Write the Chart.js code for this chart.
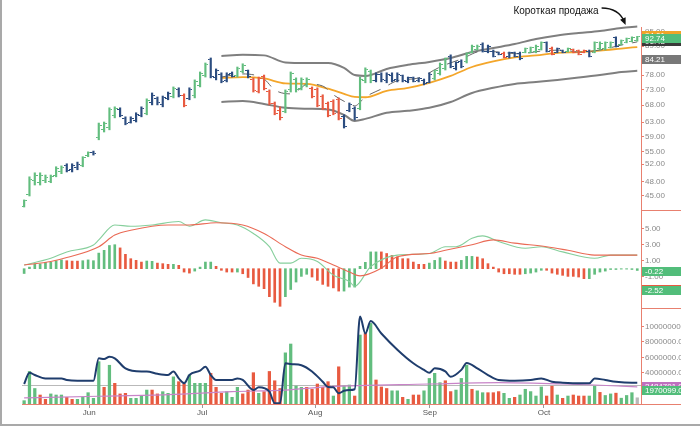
<!DOCTYPE html>
<html>
<head>
<meta charset="utf-8">
<script src="https://cdn.jsdelivr.net/npm/chart.js@4.4.1/dist/chart.umd.min.js"></script>
<style>
  html, body { margin: 0; padding: 0; background: #fff; }
  #wrap { position: relative; width: 700px; height: 426px; overflow: hidden; background: #fff; }
  #wrap canvas { position: absolute; left: 0; top: 0; }
  .frame { position: absolute; background: #a9a9a9; }
</style>
</head>
<body>
<div id="wrap">
  <canvas id="priceChart" width="681" height="426"></canvas>
  <canvas id="macdChart" width="681" height="426"></canvas>
  <canvas id="volChart" width="681" height="426"></canvas>
  <div class="frame" style="left:0;top:0;width:2px;height:426px"></div>
  <div class="frame" style="left:0;top:424px;width:700px;height:2px"></div>
</div>
<script>
// месяцы на оси X (позиция = номер торгового дня)
const monthLabels = ['Jun', 'Jul', 'Aug', 'Sep', 'Oct'];
const monthPos = [12.2, 33.4, 54.6, 76.1, 97.5];

// цены OHLC по дням
const openP = [
  42.9, 45.3, 48.2, 47.9, 48.2, 48.0, 49.4, 50.2, 51.6, 50.7,
  51.3, 51.8, 54.0, 54.9, 58.6, 60.8, 61.5, 65.0, 66.8, 64.0,
  63.0, 63.5, 65.0, 65.6, 69.0, 70.2, 68.2, 70.2, 70.8, 73.0,
  71.0, 70.0, 71.0, 74.5, 77.8, 83.8, 77.0, 78.3, 76.0, 78.6,
  77.8, 79.3, 79.5, 76.6, 72.5, 77.5, 72.4, 68.6, 66.5, 66.0,
  73.0, 76.5, 73.5, 74.3, 73.5, 73.0, 70.8, 68.5, 69.3, 69.8,
  64.5, 66.5, 67.0, 67.0, 76.0, 79.2, 76.0, 78.2, 76.0, 78.0,
  76.4, 77.8, 75.8, 77.0, 76.0, 76.2, 75.5, 76.8, 78.5, 80.3,
  84.8, 80.2, 82.8, 82.8, 86.6, 87.8, 89.8, 86.7, 87.0, 86.3,
  86.2, 84.7, 86.3, 86.2, 86.5, 86.6, 86.8, 87.8, 90.3, 88.2,
  86.5, 87.2, 86.8, 87.6, 87.2, 86.5, 87.0, 86.6, 88.0, 88.2,
  88.5, 92.5, 89.6, 90.5, 91.0, 91.2
];
const highP = [
  44.2, 49.1, 50.0, 50.0, 49.5, 49.5, 51.4, 51.6, 52.1, 52.1,
  52.5, 53.8, 55.0, 55.2, 62.7, 63.0, 67.2, 67.5, 67.2, 64.5,
  64.5, 65.7, 67.5, 70.0, 71.9, 70.6, 70.9, 72.2, 73.9, 73.6,
  71.6, 73.6, 76.3, 79.1, 82.4, 84.3, 80.2, 78.8, 78.8, 79.1,
  80.9, 82.1, 79.8, 77.0, 77.3, 78.0, 72.9, 69.0, 67.5, 72.9,
  79.1, 77.0, 77.0, 77.0, 73.9, 73.6, 71.3, 69.0, 69.7, 70.3,
  65.1, 68.7, 67.5, 77.3, 80.6, 79.8, 78.8, 78.8, 78.8, 78.8,
  78.8, 78.0, 77.3, 77.3, 77.0, 76.6, 78.8, 79.8, 82.4, 84.3,
  85.5, 82.8, 83.6, 86.3, 89.4, 89.4, 90.3, 89.4, 87.4, 86.6,
  86.6, 86.6, 86.6, 86.6, 88.2, 88.6, 89.4, 90.7, 90.7, 88.6,
  88.2, 87.4, 88.2, 87.8, 87.4, 87.4, 87.4, 90.7, 90.7, 90.7,
  90.7, 92.8, 91.5, 92.3, 92.8, 93.0
];
const lowP = [
  42.8, 45.0, 47.3, 47.3, 47.8, 47.8, 49.1, 49.8, 50.2, 50.2,
  50.7, 51.4, 53.8, 54.2, 58.1, 60.2, 60.8, 64.2, 64.5, 62.2,
  62.7, 63.0, 64.5, 65.1, 68.1, 68.1, 67.5, 69.7, 70.3, 70.6,
  67.5, 69.7, 70.3, 73.9, 77.3, 77.0, 76.3, 75.3, 75.6, 77.3,
  77.3, 78.8, 77.0, 72.2, 71.9, 72.9, 68.1, 65.1, 63.6, 65.7,
  72.2, 72.2, 72.9, 73.9, 70.3, 67.5, 66.6, 64.5, 65.1, 63.6,
  61.3, 66.0, 63.6, 66.6, 75.3, 75.3, 75.6, 75.6, 75.3, 75.6,
  75.6, 75.6, 75.3, 75.6, 75.6, 74.6, 75.3, 76.3, 78.0, 79.8,
  80.6, 79.8, 80.6, 82.4, 86.3, 87.4, 86.6, 86.3, 84.7, 85.5,
  84.3, 84.3, 84.7, 83.6, 86.3, 86.3, 86.3, 87.4, 86.6, 85.5,
  86.3, 86.3, 86.6, 86.3, 85.5, 86.3, 84.7, 86.3, 87.4, 87.4,
  88.2, 88.6, 89.4, 90.3, 90.7, 91.0
];
const closeP = [
  44.0, 48.6, 49.4, 49.5, 48.9, 49.2, 51.0, 51.2, 50.6, 51.6,
  52.0, 53.5, 54.8, 54.5, 62.0, 62.6, 66.6, 67.0, 65.0, 62.6,
  64.0, 65.2, 67.0, 69.5, 71.2, 68.8, 70.5, 71.8, 73.5, 71.2,
  68.0, 73.0, 75.8, 78.6, 82.0, 77.6, 79.6, 75.8, 78.2, 77.6,
  80.5, 81.6, 77.4, 72.6, 76.8, 73.4, 68.6, 65.6, 64.2, 72.3,
  78.5, 73.0, 76.5, 76.6, 70.8, 68.0, 67.0, 65.0, 65.5, 64.0,
  61.8, 68.3, 64.2, 76.5, 80.0, 76.0, 78.3, 76.3, 78.2, 76.2,
  78.3, 76.0, 77.0, 75.9, 76.8, 74.9, 78.3, 79.5, 82.0, 84.0,
  81.0, 82.5, 81.0, 86.0, 89.0, 89.0, 87.0, 89.0, 85.0, 85.7,
  84.6, 86.3, 85.0, 84.0, 88.0, 88.3, 89.0, 90.3, 87.0, 85.8,
  88.0, 86.5, 88.0, 86.5, 85.8, 87.2, 85.0, 90.3, 90.2, 90.4,
  90.5, 89.0, 91.2, 92.0, 92.4, 92.74
];
// цвет бара: G - рост, R - падение, B - нейтрально
const impulse = (
  'GGGGGGGGBB' + 'BGGBGGGGBB' + 'BBBGBBBBGB' + 'RBGGGBBBBB' + 'GGBRRRRRRG' +
  'GGGGRRRRRR' + 'BBBGGGBBBB' + 'BBBBBBBGGG' + 'BBBGGGBBBB' + 'RBBBGGGGBR' +
  'BBGRRRBGGG' + 'GBGGGG'
).split('');

// канал и скользящие (опорные точки)
const bandIdx = [37, 41, 45, 49, 53, 57, 60, 62, 64, 68, 72, 76, 80, 84, 88, 92, 96, 100, 104, 108, 112, 115];
const upperBand = [85.1, 85.5, 85.3, 82.6, 82.4, 82.4, 80.6, 78.0, 77.7, 80.2, 81.7, 82.8, 84.3, 86.6, 88.2, 89.8, 91.9, 93.4, 94.4, 95.3, 96.6, 97.3];
const lowerBand = [69.0, 69.3, 68.4, 67.2, 66.9, 66.7, 65.1, 63.3, 63.9, 65.7, 66.3, 67.2, 69.0, 71.9, 73.6, 74.9, 75.6, 76.3, 77.1, 78.0, 79.1, 79.5];
const slowEma = [77.0, 77.3, 76.8, 75.1, 74.9, 73.3, 71.6, 70.6, 70.5, 72.6, 73.6, 75.3, 77.7, 80.9, 83.0, 84.5, 85.3, 86.3, 86.6, 87.2, 88.0, 88.6];
const fastIdx = [37, 41, 45, 47, 50, 52, 53, 56, 58, 61, 62, 64, 67, 70, 74, 78, 82, 86, 89, 93, 97, 101, 104, 108, 112, 115];
const fastEma = [77.3, 78.4, 76.6, 72.9, 71.6, 73.6, 74.9, 74.2, 71.3, 68.4, 67.8, 70.6, 73.2, 76.0, 77.0, 80.9, 83.9, 87.0, 86.6, 85.9, 87.0, 87.4, 86.6, 87.4, 89.4, 90.7];
const priceTicks = [95, 89, 84, 78, 73, 68, 63, 59, 55, 52, 48, 45];

// MACD
const macdHist = [
  -0.6, 0.2, 0.6, 0.6, 0.8, 0.8, 1.0, 1.1, 1.0, 0.95,
  0.95, 1.0, 1.1, 1.0, 1.95, 2.3, 2.9, 3.0, 2.6, 1.8,
  1.25, 1.05, 0.83, 0.96, 0.92, 0.7, 0.63, 0.55, 0.55, 0.42,
  -0.42, -0.55, -0.3, 0.2, 0.83, 0.83, 0.3, -0.2, -0.42, -0.42,
  -0.42, -0.63, -1.1, -1.9, -2.2, -2.5, -3.5, -4.2, -4.7, -3.5,
  -2.6, -1.67, -0.96, -0.7, -1.04, -1.46, -1.96, -2.2, -2.4, -2.8,
  -2.8, -2.3, -2.3, 0.3, 0.8, 2.1, 2.1, 2.1, 1.9, 1.67,
  1.46, 1.25, 1.25, 0.83, 0.55, 0.55, 0.7, 1.04, 1.38, 0.96,
  0.83, 0.83, 1.04, 1.54, 1.54, 1.46, 1.25, 0.63, 0.2, -0.42,
  -0.63, -0.63, -0.7, -0.7, -0.63, -0.55, -0.42, -0.2, -0.2, -0.55,
  -0.7, -0.83, -0.96, -0.96, -1.04, -1.25, -1.25, -0.7, -0.42, -0.3,
  -0.1, -0.1, -0.05, -0.05, -0.1, -0.22
];
const histColor = (
  'GGGGGGGGRR' + 'RGGGGGGGRR' + 'RRRGGRRRGR' + 'RRGGGGRRRR' + 'GRRRRRRRRG' +
  'GGGGRRRRRR' + 'GGGGGGGRRR' + 'RRRRRRGGGR' + 'RRGGGRRRRR' + 'RRRRGGGGRR' +
  'RRRRRRGGGG' + 'GGGGGG'
).split('');
const macdIdx = [0, 5, 8, 13, 14, 17, 20, 24, 29, 31, 34, 37, 40, 43, 46, 48, 50, 52, 55, 58, 61, 62, 65, 70, 76, 79, 81, 84, 86, 89, 94, 97, 101, 107, 110, 115];
const macdLine = [0.46, 1.3, 2.1, 2.96, 3.6, 5.46, 5.3, 5.46, 5.9, 5.3, 6.1, 5.75, 5.46, 4.4, 2.75, 0.7, 0.7, 1.3, 0.9, -0.8, -1.6, -2.2, 0.25, 1.7, 1.9, 2.75, 2.75, 3.8, 4.1, 3.4, 2.55, 2.75, 2.1, 1.3, 1.7, 1.7];
const signalIdx = [0, 5, 8, 14, 17, 20, 27, 31, 36, 41, 45, 49, 52, 55, 58, 61, 63, 67, 70, 76, 79, 84, 88, 92, 98, 102, 107, 115];
const signalLine = [0.46, 0.9, 1.4, 2.75, 4.2, 4.8, 5.46, 5.46, 5.75, 5.46, 4.4, 2.75, 1.7, 1.3, 0.46, -0.4, -0.9, 0.05, 1.5, 1.9, 2.3, 3.0, 3.6, 3.2, 2.75, 2.3, 1.7, 1.7];
const macdTicks = [5, 3, 1, -1, -3];

// объём, млн
const volume = [
  0.43, 4.2, 2.0, 1.16, 0.6, 1.3, 1.16, 1.16, 0.86, 0.6,
  0.6, 0.86, 1.46, 0.73, 5.46, 2.15, 5.0, 2.67, 1.3, 1.38,
  0.73, 0.73, 1.03, 1.8, 1.8, 1.3, 1.59, 1.38, 3.5, 2.88,
  2.58, 3.74, 2.67, 2.67, 2.67, 3.96, 2.15, 1.38, 1.59, 0.86,
  2.15, 1.3, 1.8, 4.04, 1.38, 1.59, 4.2, 3.0, 2.0, 6.6,
  7.74, 2.32, 2.15, 2.15, 1.9, 2.58, 2.15, 2.88, 1.03, 4.8,
  2.32, 2.45, 1.03, 8.9, 9.1, 10.4, 3.1, 2.2, 2.0, 1.7,
  1.7, 0.86, 0.6, 1.16, 1.16, 1.7, 3.3, 3.96, 2.75, 3.0,
  1.6, 1.8, 3.3, 5.0, 1.9, 1.7, 1.46, 1.46, 1.46, 1.6,
  1.38, 0.73, 0.86, 1.16, 1.9, 1.6, 1.03, 2.2, 1.03, 2.3,
  1.16, 0.73, 1.03, 1.16, 1.03, 1.03, 1.03, 2.3, 1.5, 1.1,
  1.3, 1.4, 0.75, 1.1, 1.46, 0.8
];
const volColor = (
  'GGGRRGGGRR' + 'GGGGGRGRRR' + 'GGGGRRGGGR' + 'RGGGGRRRGG' + 'GRRRGRRRRG' +
  'GGGRRRRRGR' + 'GGRGRGRRRG' + 'GRGRRGGGGR' + 'RGGGRGGRRR' + 'GGRGGGGGRR' +
  'GRGRRRGGRG' + 'GRGGGN'
).split('');
const volAvgIdx = [0, 1, 2, 4, 7, 8, 10, 13, 14, 15, 16, 17, 19, 22, 23, 25, 27, 28, 29, 30,
  31, 33, 34, 35, 36, 39, 40, 41, 43, 44, 46, 47, 48, 49, 50, 52, 54, 56, 57, 58,
  59, 60, 61, 62, 63, 64, 65, 67, 70, 73, 75, 76, 77, 79, 80, 82, 83, 85, 87, 89,
  92, 95, 97, 99, 101, 105, 106, 107, 109, 111, 114, 115];
const volAvg = [2.58, 4.04, 3.74, 3.3, 3.3, 3.1, 3.0, 3.0, 5.9, 5.8, 6.1, 5.9, 4.6, 4.2, 4.2, 3.9, 3.74, 4.2, 3.3, 2.67,
  3.74, 4.3, 4.8, 3.74, 3.1, 3.1, 3.3, 3.1, 1.8, 2.15, 1.6, 0.1, 0.1, 5.25, 5.16, 5.0, 4.2, 2.88, 2.2, 2.15,
  1.38, 1.7, 1.8, 1.9, 11.3, 9.1, 10.7, 9.1, 7.0, 5.25, 4.4, 4.04, 4.6, 4.2, 3.5, 4.4, 5.3, 4.6, 3.74, 3.1,
  3.0, 3.1, 3.3, 2.88, 2.75, 2.67, 2.67, 3.3, 3.1, 2.88, 2.75, 2.75];
const volLongIdx = [0, 14, 27, 39, 49, 57, 76, 89, 101, 107, 112, 115];
const volLong = [0.8, 1.0, 1.2, 1.6, 1.8, 2.25, 2.58, 2.75, 2.58, 2.45, 2.3, 2.2];
const volMean = 2.45;
const volTicks = [2, 4, 6, 8, 10];

// ---------------------------------------------------------------
const FONT = '"Liberation Sans", Arial, sans-serif';
Chart.defaults.font.family = FONT;
const GREEN = '#62bd7e', BLUE = '#2c4d80', RED = '#e85a40', AXIS = '#e8806f';
const colorOf = { G: GREEN, B: BLUE, R: RED, N: '#b8b8b8' };
const X_MIN = -0.4, X_MAX = 115.7;

const pts = (xs, ys) => xs.map((x, k) => ({ x: x, y: ys[k] }));

// засечки открытия/закрытия
function tickImage(color, left) {
  const c = document.createElement('canvas');
  c.width = 6; c.height = 1;
  const g = c.getContext('2d');
  g.fillStyle = color;
  g.fillRect(left ? 0 : 4, 0, 2, 1);
  return c;
}
const openTicks = {}, closeTicks = {};
Object.keys(colorOf).forEach(k => {
  openTicks[k] = tickImage(colorOf[k], true);
  closeTicks[k] = tickImage(colorOf[k], false);
});

// ярлыки значений справа от оси + разделитель панели
const tagPlugin = {
  id: 'tags',
  afterDraw(chart, args, opts) {
    const { ctx, chartArea } = chart;
    const y = chart.scales.y;
    ctx.save();
    ctx.strokeStyle = AXIS;
    ctx.lineWidth = 1;
    ctx.beginPath();
    ctx.moveTo(chartArea.right, Math.round(chartArea.bottom) + 0.5);
    ctx.lineTo(681, Math.round(chartArea.bottom) + 0.5);
    ctx.stroke();
    ctx.font = '8px ' + FONT;
    ctx.textBaseline = 'middle';
    (opts.list || []).forEach(t => {
      const p = Math.round(y.getPixelForValue(t.value));
      ctx.fillStyle = t.bg;
      ctx.fillRect(chartArea.right + 1, p - 3, 40, 9);
      ctx.fillStyle = '#fff';
      ctx.fillText(t.text, chartArea.right + 4, p + 1.5);
    });
    ctx.restore();
  }
};

// подпись со стрелкой
const notePlugin = {
  id: 'note',
  afterDraw(chart, args, opts) {
    if (!opts.text) return;
    const { ctx } = chart;
    const tx = chart.scales.x.getPixelForValue(opts.x);
    const ty = chart.scales.y.getPixelForValue(opts.y);
    ctx.save();
    ctx.fillStyle = '#111';
    ctx.font = '10px ' + FONT;
    ctx.textAlign = 'right';
    ctx.textBaseline = 'alphabetic';
    ctx.fillText(opts.text, tx - 28, ty - 12);
    ctx.strokeStyle = '#111';
    ctx.lineWidth = 1.3;
    ctx.beginPath();
    ctx.moveTo(tx - 25, ty - 18);
    ctx.quadraticCurveTo(tx - 8, ty - 18, tx - 2, ty - 4);
    ctx.stroke();
    const ang = Math.atan2(14, 6);
    ctx.translate(tx - 1, ty - 1);
    ctx.rotate(ang);
    ctx.beginPath();
    ctx.moveTo(0, 0);
    ctx.lineTo(-7, -3);
    ctx.lineTo(-7, 3);
    ctx.closePath();
    ctx.fill();
    ctx.restore();
  }
};

// средний объём — горизонтальная линия
const meanPlugin = {
  id: 'mean',
  beforeDatasetsDraw(chart, args, opts) {
    if (opts.value == null) return;
    const { ctx, chartArea } = chart;
    const p = Math.round(chart.scales.y.getPixelForValue(opts.value)) + 0.5;
    ctx.save();
    ctx.strokeStyle = '#b9b9b9';
    ctx.lineWidth = 1;
    ctx.beginPath();
    ctx.moveTo(chartArea.left, p);
    ctx.lineTo(chartArea.right, p);
    ctx.stroke();
    ctx.restore();
  }
};

const hiddenX = { type: 'linear', min: X_MIN, max: X_MAX, offset: false, display: false };

function rightAxis(extra, ticks, fmt) {
  return Object.assign({
    position: 'right',
    afterFit: s => { s.width = 40; },
    afterBuildTicks: s => { s.ticks = ticks.map(v => ({ value: v })); },
    grid: { drawOnChartArea: false, tickLength: 3, tickColor: AXIS, tickWidth: 1 },
    border: { color: AXIS, width: 1 },
    ticks: {
      callback: fmt, color: '#8a8a8a', font: { size: 8, family: FONT },
      padding: 1, autoSkip: false, maxRotation: 0
    }
  }, extra);
}

function baseOptions(pad, scales, plugins) {
  return {
    responsive: false, animation: false, devicePixelRatio: 1, events: [],
    layout: { padding: pad },
    scales: scales,
    plugins: Object.assign({ legend: { display: false }, tooltip: { enabled: false } }, plugins)
  };
}

// ---------- панель цены ----------
new Chart(document.getElementById('priceChart'), {
  type: 'bar',
  data: {
    datasets: [
      {
        type: 'bar', data: highP.map((h, i) => ({ x: i, y: [lowP[i], h] })),
        backgroundColor: c => colorOf[impulse[c.dataIndex]], barThickness: 1.5, order: 0
      },
      {
        type: 'line', data: openP.map((v, i) => ({ x: i, y: v })), showLine: false,
        pointRadius: 2, pointStyle: c => openTicks[impulse[c.dataIndex]], order: 0
      },
      {
        type: 'line', data: closeP.map((v, i) => ({ x: i, y: v })), showLine: false,
        pointRadius: 2, pointStyle: c => closeTicks[impulse[c.dataIndex]], order: 0
      },
      {
        type: 'line', data: pts(bandIdx, upperBand), borderColor: '#7f7f7f', borderWidth: 2,
        pointRadius: 0, cubicInterpolationMode: 'monotone', clip: false, order: 3
      },
      {
        type: 'line', data: pts(bandIdx, lowerBand), borderColor: '#7f7f7f', borderWidth: 2,
        pointRadius: 0, cubicInterpolationMode: 'monotone', clip: false, order: 3
      },
      {
        type: 'line', data: pts(bandIdx, slowEma), borderColor: '#f4a62a', borderWidth: 1.8,
        pointRadius: 0, cubicInterpolationMode: 'monotone', order: 2
      },
      {
        type: 'line', data: pts(fastIdx, fastEma), borderColor: '#666', borderWidth: 1,
        borderDash: [12, 9], pointRadius: 0, cubicInterpolationMode: 'monotone', order: 1
      }
    ]
  },
  options: baseOptions(
    { left: 22, right: 0, top: 27, bottom: 216 },
    {
      x: hiddenX,
      y: rightAxis({ type: 'logarithmic', min: 42.22, max: 97.05 }, priceTicks, v => Number(v).toFixed(2))
    },
    {
      tags: {
        list: [
          { text: '94.01', value: 94.01, bg: '#f0a428' },
          { text: '91.48', value: 91.48, bg: '#3a3a3a' },
          { text: '92.74', value: 92.74, bg: '#52bd7a' },
          { text: '84.21', value: 84.21, bg: '#787878' }
        ]
      },
      note: { text: 'Короткая продажа', x: 113, y: 97.5 }
    }
  ),
  plugins: [tagPlugin, notePlugin]
});

// ---------- панель MACD ----------
new Chart(document.getElementById('macdChart'), {
  type: 'bar',
  data: {
    datasets: [
      {
        type: 'bar', data: macdHist.map((v, i) => ({ x: i, y: v })),
        backgroundColor: c => colorOf[histColor[c.dataIndex]], barThickness: 2, order: 2
      },
      {
        type: 'line', data: pts(macdIdx, macdLine), borderColor: '#86cf9c', borderWidth: 1.1,
        pointRadius: 0, cubicInterpolationMode: 'monotone', order: 1
      },
      {
        type: 'line', data: pts(signalIdx, signalLine), borderColor: '#ea6a55', borderWidth: 1.1,
        pointRadius: 0, cubicInterpolationMode: 'monotone', order: 0
      }
    ]
  },
  options: baseOptions(
    { left: 22, right: 0, top: 210, bottom: 118 },
    {
      x: hiddenX,
      y: rightAxis({ type: 'linear', min: -4.9125, max: 7.3375 }, macdTicks, v => Number(v).toFixed(2))
    },
    {
      tags: {
        list: [
          { text: '-0.22', value: -0.22, bg: '#52bd7a' },
          { text: '-2.40', value: -2.40, bg: RED },
          { text: '-2.52', value: -2.52, bg: '#52bd7a' }
        ]
      }
    }
  ),
  plugins: [tagPlugin]
});

// ---------- панель объёма ----------
new Chart(document.getElementById('volChart'), {
  type: 'bar',
  data: {
    datasets: [
      {
        type: 'bar', data: volume.map((v, i) => ({ x: i, y: v })),
        backgroundColor: c => colorOf[volColor[c.dataIndex]], barThickness: 2.6, order: 2
      },
      {
        type: 'line', data: pts(volLongIdx, volLong), borderColor: '#c884c8', borderWidth: 1.2,
        pointRadius: 0, cubicInterpolationMode: 'monotone', order: 1
      },
      {
        type: 'line', data: pts(volAvgIdx, volAvg), borderColor: '#1f3d6d', borderWidth: 2,
        pointRadius: 0, cubicInterpolationMode: 'monotone', order: 0
      }
    ]
  },
  options: baseOptions(
    { left: 22, right: 0, top: 308, bottom: 0 },
    {
      x: {
        type: 'linear', min: X_MIN, max: X_MAX, offset: false,
        afterFit: s => { s.height = 22; },
        afterBuildTicks: s => { s.ticks = monthPos.map(v => ({ value: v })); },
        grid: { offset: false, drawOnChartArea: false, tickLength: 4, tickColor: '#9a9a9a' },
        border: { color: AXIS, width: 1 },
        ticks: {
          callback: (v, i) => monthLabels[i], color: '#555', font: { size: 8, family: FONT },
          padding: 0, autoSkip: false, maxRotation: 0
        }
      },
      y: rightAxis({ type: 'linear', min: 0, max: 12.387 }, volTicks, v => (v * 1000000).toFixed(1))
    },
    {
      tags: {
        list: [
          { text: '2484701.0', value: 2.484701, bg: '#c070c0' },
          { text: '1970099.0', value: 1.970099, bg: '#52bd7a' }
        ]
      },
      mean: { value: volMean }
    }
  ),
  plugins: [tagPlugin, meanPlugin]
});
</script>
</body>
</html>
